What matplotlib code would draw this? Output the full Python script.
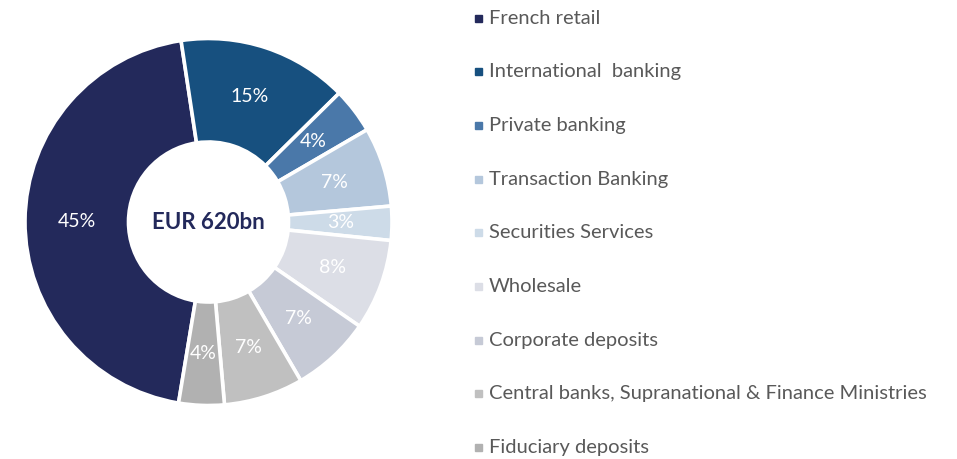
import matplotlib
matplotlib.use("Agg")
import matplotlib.pyplot as plt

plt.rcParams["font.family"] = ["Lato", "DejaVu Sans"]

labels = ["French retail", "International  banking", "Private banking",
          "Transaction Banking", "Securities Services", "Wholesale",
          "Corporate deposits", "Central banks, Supranational & Finance Ministries",
          "Fiduciary deposits"]
shares = [45, 15, 4, 7, 3, 8, 7, 7, 4]
colors = ["#23295b", "#17507f", "#4a78a9", "#b4c7dc", "#cddbe8",
          "#dcdee6", "#c6cad6", "#c0c0c0", "#b1b1b1"]
total_label = "EUR 620bn"

fig = plt.figure(figsize=(9.57, 4.59), dpi=100)
cx, cy, R = 208.5, 222, 183.5
ax = fig.add_axes([(cx - R) / 957, (459 - cy - R) / 459, 2 * R / 957, 2 * R / 459])
wedges, _, pcts = ax.pie(shares, colors=colors, startangle=260.6, counterclock=False,
                         radius=1, autopct=lambda p: f"{p:.0f}%", pctdistance=0.718,
                         wedgeprops=dict(width=0.564, edgecolor="white", linewidth=2.6),
                         textprops=dict(color="white", fontsize=14))
ax.set_xlim(-1, 1); ax.set_ylim(-1, 1); ax.set_aspect("equal")
ax.text(0, 0, total_label, ha="center", va="center", fontsize=16,
        fontweight="bold", color="#23295b")

# legend drawn by hand on the right
y0, dy = 18, 53.7
for i, (lab, col) in enumerate(zip(labels, colors)):
    y = 1 - (y0 + i * dy) / 459
    fig.patches.append(plt.Rectangle((475 / 957, y - 3.5 / 459), 7 / 957, 7 / 459,
                                     transform=fig.transFigure, color=col))
    fig.text(489 / 957, y, lab, ha="left", va="center", fontsize=14.5, color="#595959")

fig.savefig("out.png", dpi=100)
